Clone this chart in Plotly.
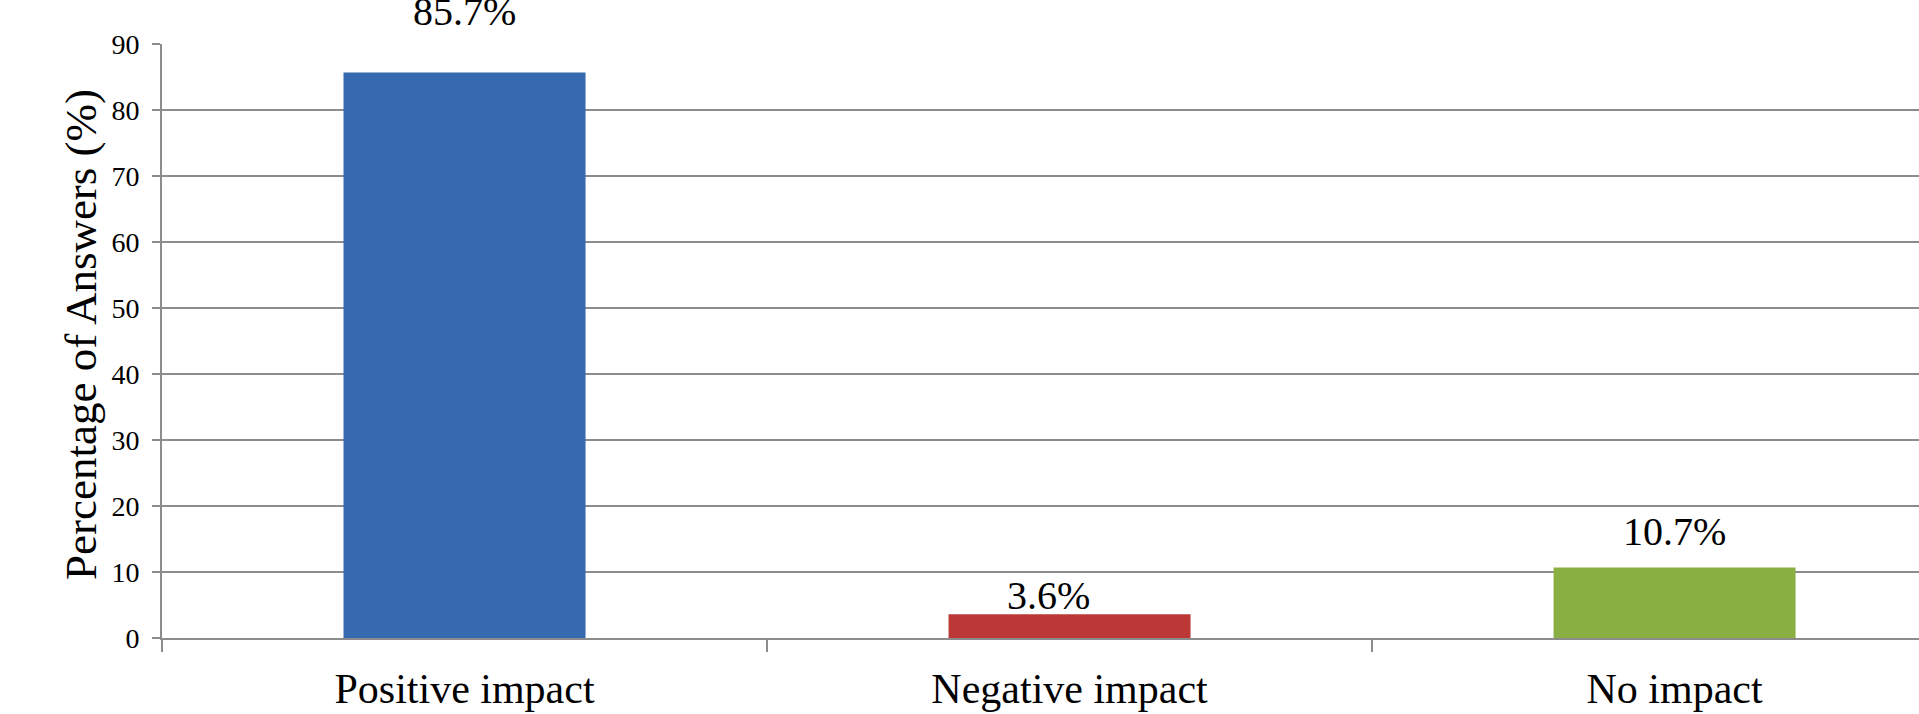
import plotly.graph_objects as go

# Survey answers: share of respondents per perceived impact
categories = ["Positive impact", "Negative impact", "No impact"]
percentages = [85.7, 3.6, 10.7]
y_ticks = [0, 10, 20, 30, 40, 50, 60, 70, 80, 90]

bar_colors = ["#3569b0", "#bb3836", "#8aaf43"]
grid_gray = "#8c8c8c"
serif = "Liberation Serif"

# vertical / horizontal nudges for the value labels (pixels), one per category
label_yshift = [36, -6, 11]
label_xshift = [0, -21, 0]

fig = go.Figure()

fig.add_trace(go.Bar(
    x=categories,
    y=percentages,
    marker=dict(color=bar_colors, line=dict(width=0)),
    width=0.4,
    showlegend=False,
    hoverinfo="skip",
))

for cat, val, dy, dx in zip(categories, percentages, label_yshift, label_xshift):
    fig.add_annotation(
        x=cat, y=val, text=f"{val}%",
        showarrow=False, yanchor="bottom", xanchor="center",
        yshift=dy, xshift=dx,
        font=dict(family=serif, size=40, color="black"),
    )

# rotated y-axis title
fig.add_annotation(
    xref="paper", yref="paper", x=0, y=0.5,
    xanchor="center", yanchor="middle",
    xshift=-81, yshift=6,
    textangle=-90, showarrow=False,
    text="Percentage of Answers (%)",
    font=dict(family=serif, size=45, color="black"),
)

fig.update_layout(
    width=1919, height=714,
    margin=dict(l=162, r=0, t=44, b=76),
    paper_bgcolor="white",
    plot_bgcolor="white",
    bargap=0.6,
    font=dict(family=serif, color="black"),
)

fig.update_xaxes(
    type="category",
    categoryorder="array", categoryarray=categories,
    range=[-0.5, 2.404],
    tickson="boundaries",
    ticks="outside", ticklen=12, tickwidth=2, tickcolor=grid_gray,
    showgrid=False,
    showline=True, linecolor=grid_gray, linewidth=2,
    tickfont=dict(family=serif, size=42, color="black"),
    ticklabelstandoff=13,
)

fig.update_yaxes(
    range=[0, 90],
    tickvals=y_ticks,
    showgrid=True, gridcolor=grid_gray, gridwidth=2,
    zeroline=False,
    showline=True, linecolor=grid_gray, linewidth=2,
    ticks="outside", ticklen=8, tickwidth=2, tickcolor=grid_gray,
    tickfont=dict(family=serif, size=28, color="black"),
    ticklabelstandoff=7,
)

fig.write_html("out.html")
